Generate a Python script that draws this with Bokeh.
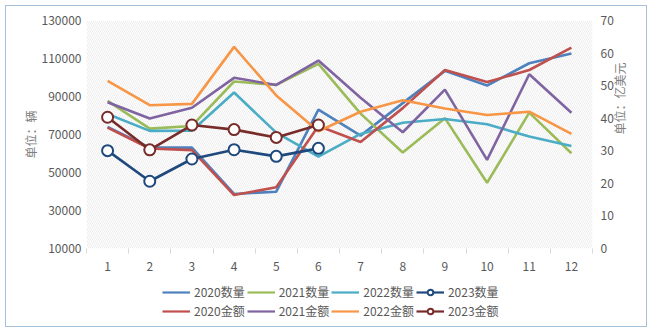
import math
from bokeh.plotting import figure
from bokeh.layouts import column
from bokeh.models import (Range1d, LinearAxis, FixedTicker, BoxAnnotation, Legend,
                          LegendItem, NumeralTickFormatter)
from bokeh.embed import file_html
from bokeh.resources import INLINE

months = list(range(1, 13))
months_2023 = [1, 2, 3, 4, 5, 6]
x_tick_labels = [str(m) for m in months]

# Quantities (left axis, 辆)
qty_2020 = [74000, 63100, 63100, 38700, 39900, 83100, 69400, 86500, 103500, 95800, 107500, 112600]
qty_2021 = [87700, 73100, 74500, 97900, 96100, 107200, 81000, 60500, 78600, 44600, 81500, 60100]
qty_2022 = [80800, 71900, 72000, 92100, 71000, 58300, 70300, 76200, 78200, 75400, 68900, 64000]
qty_2023 = [61500, 45400, 57100, 62000, 58500, 62700]

# Amounts (right axis, 亿美元)
amt_2020 = [37.1, 30.7, 30.2, 16.4, 18.8, 37.6, 32.7, 43.1, 54.8, 51.1, 54.8, 61.7]
amt_2021 = [44.9, 39.9, 43.2, 52.4, 50.2, 57.7, 46.3, 35.7, 48.8, 27.2, 53.5, 41.7]
amt_2022 = [51.5, 44.0, 44.4, 61.9, 47.0, 36.0, 42.0, 45.5, 43.0, 41.0, 42.0, 35.2]
amt_2023 = [40.3, 30.3, 37.9, 36.5, 34.1, 37.9]

left_ticks = [10000, 30000, 50000, 70000, 90000, 110000, 130000]
right_ticks = [0, 10, 20, 30, 40, 50, 60, 70]

series = [
    # label, x, y, color, right axis?, markers?
    ("2020数量", months, qty_2020, "#4f81bd", False, False),
    ("2021数量", months, qty_2021, "#9bbb59", False, False),
    ("2022数量", months, qty_2022, "#4bacc6", False, False),
    ("2023数量", months_2023, qty_2023, "#1f497d", False, True),
    ("2020金额", months, amt_2020, "#c0504d", True, False),
    ("2021金额", months, amt_2021, "#8064a2", True, False),
    ("2022金额", months, amt_2022, "#f79646", True, False),
    ("2023金额", months_2023, amt_2023, "#772c2a", True, True),
]
draw_order = [0, 1, 2, 4, 5, 6, 3, 7]

FONT = "Noto Sans CJK SC"
TICK_C = "#595959"
LABEL_C = "#808080"
GRID_C = "#d9d9d9"
LW = 2.6

p = figure(width=640, height=270, output_backend="svg", toolbar_location=None,
           x_range=Range1d(0.5, 12.5), y_range=Range1d(10000, 130000),
           min_border_left=80, min_border_right=54, min_border_top=14, min_border_bottom=28)
p.extra_y_ranges = {"r": Range1d(0, 70)}
p.outline_line_color = None
p.background_fill_color = "white"
p.border_fill_color = "white"

# hatched plot background
p.add_layout(BoxAnnotation(fill_color="white", fill_alpha=1.0, line_color=None,
                           hatch_pattern="left_diagonal_line", hatch_color="#cfcfcf",
                           hatch_alpha=0.6, hatch_scale=4, hatch_weight=0.6,
                           level="underlay"))

# grids
boundaries = [0.5 + i for i in range(13)]
p.xgrid.ticker = FixedTicker(ticks=boundaries)
p.ygrid.ticker = FixedTicker(ticks=left_ticks)
p.xgrid.grid_line_color = GRID_C
p.ygrid.grid_line_color = GRID_C
p.xgrid.level = "underlay"
p.ygrid.level = "underlay"

# axes
p.xaxis.ticker = FixedTicker(ticks=months, minor_ticks=boundaries)
p.xaxis.major_label_overrides = {m: lab for m, lab in zip(months, x_tick_labels)}
p.yaxis.ticker = FixedTicker(ticks=left_ticks)
p.yaxis.formatter = NumeralTickFormatter(format="0")
p.yaxis.axis_label = "单位：辆"

raxis = LinearAxis(y_range_name="r", ticker=FixedTicker(ticks=right_ticks),
                   axis_label="单位：亿美元")
p.add_layout(raxis, "right")

for ax in [p.xaxis[0], p.yaxis[0], raxis]:
    ax.axis_line_color = None
    ax.major_tick_line_color = None
    ax.minor_tick_line_color = None
    ax.major_tick_out = 0
    ax.major_tick_in = 0
    ax.minor_tick_in = 0
    ax.major_label_text_color = TICK_C
    ax.major_label_text_font = FONT
    ax.major_label_text_font_size = "12px"
    ax.axis_label_text_font = FONT
    ax.axis_label_text_font_size = "12px"
    ax.axis_label_text_font_style = "normal"
    ax.axis_label_text_color = LABEL_C
p.xaxis.minor_tick_line_color = GRID_C
p.xaxis.minor_tick_out = 5
p.xaxis.major_label_standoff = 8
p.yaxis.major_label_standoff = 5
p.yaxis.axis_label_standoff = 0
raxis.major_label_standoff = 8
raxis.axis_label_standoff = 3
raxis.axis_label_orientation = math.pi / 2

for i in draw_order:
    label, xs, ys, color, right, markers = series[i]
    kw = {"y_range_name": "r"} if right else {}
    p.line(xs, ys, line_color=color, line_width=LW, **kw)
    if markers:
        p.scatter(xs, ys, marker="circle", size=11, fill_color="white",
                  line_color=color, line_width=2, **kw)

# legend strip (separate small figure below the chart)
pl = figure(width=640, height=50, output_backend="svg", toolbar_location=None,
            x_range=Range1d(0, 1), y_range=Range1d(0, 1),
            min_border=0, min_border_left=0, min_border_right=0,
            min_border_top=0, min_border_bottom=0)
pl.axis.visible = False
pl.grid.visible = False
pl.outline_line_color = None
pl.border_fill_color = "white"
pl.background_fill_color = "white"

leg_items = []
for label, xs, ys, color, right, markers in series:
    rs = [pl.line(xs, ys, line_color=color, line_width=2.2)]
    if markers:
        rs.append(pl.scatter(xs, ys, marker="circle", size=10, fill_color="white",
                             line_color=color, line_width=2))
    leg_items.append(LegendItem(label=label, renderers=rs))

legend = Legend(items=leg_items, ncols=4, location=(76, 7), orientation="horizontal",
                label_text_font=FONT, label_text_font_size="12px", label_text_color=TICK_C,
                glyph_width=28, glyph_height=14, label_height=14, label_standoff=4,
                spacing=2, padding=2, margin=0,
                border_line_color=None, background_fill_alpha=0)
pl.add_layout(legend)

root = column(p, pl, spacing=0, margin=(5, 4, 5, 5),
              styles={"border": "1.5px solid #a7c0dc"})

open("out.html", "w").write(file_html(root, INLINE))
